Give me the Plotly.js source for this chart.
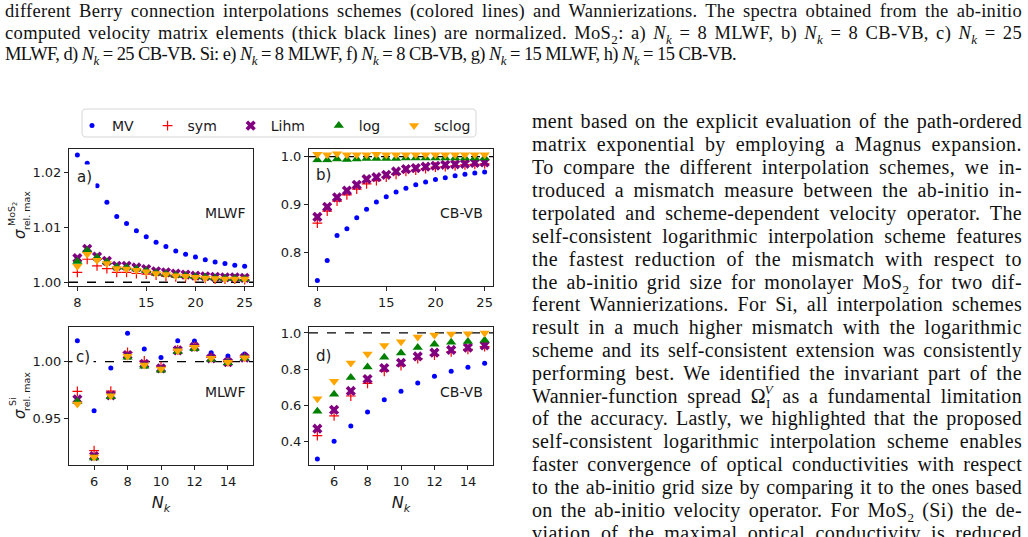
<!DOCTYPE html>
<html>
<head>
<meta charset="utf-8">
<script src="https://cdn.plot.ly/plotly-3.0.1.min.js"></script>
<style>
  html, body { margin:0; padding:0; background:#fff; }
  body { width:1028px; height:537px; position:relative; overflow:hidden; }
  #plot { position:absolute; left:0; top:0; width:1028px; height:537px; }
  .ln { position:absolute; white-space:nowrap; font-family:"Liberation Serif", "DejaVu Serif", serif; color:#111;
        text-align:justify; text-align-last:justify; height:22px; line-height:22px; z-index:2; }
  .cap { font-size:18.5px; left:5px; width:1017px; }
  .body { font-size:20px; left:532px; width:490px; }
  sub { font-size:13px; line-height:0; }
  .supv { font-size:13px; position:relative; top:-9px; margin-left:-6px; }
</style>
</head>
<body>
<div id="plot"></div>

<div class="ln cap" style="top:0px;">different Berry connection interpolations schemes (colored lines) and Wannierizations. The spectra obtained from the ab-initio</div>
<div class="ln cap" style="top:22px;">computed velocity matrix elements (thick black lines) are normalized. MoS<sub>2</sub>: a) <i>N<sub>k</sub></i> = 8 MLWF, b) <i>N<sub>k</sub></i> = 8 CB-VB, c) <i>N<sub>k</sub></i> = 25</div>
<div class="ln cap" style="top:43px; width:731px;">MLWF, d) <i>N<sub>k</sub></i> = 25 CB-VB. Si: e) <i>N<sub>k</sub></i> = 8 MLWF, f) <i>N<sub>k</sub></i> = 8 CB-VB, g) <i>N<sub>k</sub></i> = 15 MLWF, h) <i>N<sub>k</sub></i> = 15 CB-VB.</div>

<div class="ln body" style="top:110px;">ment based on the explicit evaluation of the path-ordered</div>
<div class="ln body" style="top:133px;">matrix exponential by employing a Magnus expansion.</div>
<div class="ln body" style="top:156px;">To compare the different interpolation schemes, we in-</div>
<div class="ln body" style="top:179px;">troduced a mismatch measure between the ab-initio in-</div>
<div class="ln body" style="top:202px;">terpolated and scheme-dependent velocity operator. The</div>
<div class="ln body" style="top:225px;">self-consistent logarithmic interpolation scheme features</div>
<div class="ln body" style="top:248px;">the fastest reduction of the mismatch with respect to</div>
<div class="ln body" style="top:271px;">the ab-initio grid size for monolayer MoS<sub>2</sub> for two dif-</div>
<div class="ln body" style="top:293px;">ferent Wannierizations. For Si, all interpolation schemes</div>
<div class="ln body" style="top:316px;">result in a much higher mismatch with the logarithmic</div>
<div class="ln body" style="top:339px;">scheme and its self-consistent extension was consistently</div>
<div class="ln body" style="top:362px;">performing best. We identified the invariant part of the</div>
<div class="ln body" style="top:385px;">Wannier-function spread Ω<sub>I</sub><span class="supv"><i>V</i></span> as a fundamental limitation</div>
<div class="ln body" style="top:407px;">of the accuracy. Lastly, we highlighted that the proposed</div>
<div class="ln body" style="top:430px;">self-consistent logarithmic interpolation scheme enables</div>
<div class="ln body" style="top:453px;">faster convergence of optical conductivities with respect</div>
<div class="ln body" style="top:476px;">to the ab-initio grid size by comparing it to the ones based</div>
<div class="ln body" style="top:499px;">on the ab-initio velocity operator. For MoS<sub>2</sub> (Si) the de-</div>
<div class="ln body" style="top:522px;">viation of the maximal optical conductivity is reduced</div>

<script>
// fit each justified text line: mild letter-spacing, then justify spaces
document.querySelectorAll('.ln').forEach(el => {
  const target = el.clientWidth;
  const span = document.createElement('span');
  while (el.firstChild) span.appendChild(el.firstChild);
  el.appendChild(span);
  el.style.textAlignLast = 'left';
  const nat = span.getBoundingClientRect().width;
  const chars = el.textContent.length;
  const extra = target - nat;
  let ls = extra > 0 ? extra * 0.45 / chars : (extra - 2) / chars;
  ls = Math.max(-1.2, Math.min(1.0, ls));
  el.style.letterSpacing = ls.toFixed(3) + 'px';
  el.style.textAlignLast = 'justify';
});
</script>

<script>
// ---------- data ----------
const seriesNames = ["MV", "sym", "Lihm", "log", "sclog"];
const panelLabels = ["a)", "b)", "c)", "d)"];
const wannierLabels = ["MLWF", "CB-VB", "MLWF", "CB-VB"];

const nkMoS2 = [8, 9, 10, 11, 12, 13, 14, 15, 16, 17, 18, 19, 20, 21, 22, 23, 24, 25];
const nkSi = [5, 6, 7, 8, 9, 10, 11, 12, 13, 14, 15];

// a) MoS2 MLWF
const mvA    = [1.0232, 1.0217, 1.0176, 1.0146, 1.0120, 1.0107, 1.0094, 1.0083, 1.0073, 1.0065, 1.0057, 1.0051, 1.0046, 1.0041, 1.0037, 1.0034, 1.0031, 1.0029];
const symA   = [1.0018, 1.0042, 1.0030, 1.0025, 1.0018, 1.0018, 1.0016, 1.0015, 1.0013, 1.0011, 1.0010, 1.0009, 1.0008, 1.0007, 1.0006, 1.0006, 1.0006, 1.0005];
const lihmA  = [1.0044, 1.0061, 1.0047, 1.0039, 1.0030, 1.0030, 1.0027, 1.0024, 1.0020, 1.0018, 1.0016, 1.0014, 1.0012, 1.0011, 1.0010, 1.0009, 1.0009, 1.0008];
const logA   = [1.0038, 1.0058, 1.0045, 1.0037, 1.0028, 1.0027, 1.0024, 1.0021, 1.0017, 1.0015, 1.0013, 1.0012, 1.0010, 1.0009, 1.0008, 1.0007, 1.0007, 1.0006];
const sclogA = [1.0029, 1.0051, 1.0040, 1.0034, 1.0025, 1.0024, 1.0022, 1.0019, 1.0016, 1.0014, 1.0012, 1.0011, 1.0009, 1.0008, 1.0007, 1.0006, 1.0006, 1.0006];

// b) MoS2 CB-VB
const mvB    = [0.741, 0.783, 0.835, 0.849, 0.872, 0.890, 0.905, 0.916, 0.926, 0.934, 0.941, 0.947, 0.952, 0.956, 0.960, 0.963, 0.966, 0.968];
const symB   = [0.861, 0.886, 0.907, 0.920, 0.932, 0.943, 0.950, 0.957, 0.963, 0.969, 0.972, 0.975, 0.978, 0.979, 0.981, 0.983, 0.984, 0.985];
const lihmB  = [0.874, 0.895, 0.915, 0.929, 0.941, 0.953, 0.957, 0.962, 0.969, 0.974, 0.976, 0.979, 0.981, 0.983, 0.984, 0.985, 0.987, 0.988];
const logB   = [0.993, 0.993, 0.995, 0.994, 0.995, 0.996, 0.996, 0.996, 0.996, 0.997, 0.997, 0.997, 0.997, 0.997, 0.997, 0.997, 0.997, 0.997];
const sclogB = [1.005, 1.004, 1.006, 1.004, 1.004, 1.004, 1.005, 1.004, 1.004, 1.004, 1.004, 1.004, 1.004, 1.004, 1.004, 1.004, 1.004, 1.004];

// c) Si MLWF
const mvC    = [1.0185, 0.9568, 0.9944, 1.0250, 1.0112, 1.0038, 1.0185, 1.0182, 1.0079, 1.0050, 1.0068];
const symC   = [0.9738, 0.9215, 0.9741, 1.0082, 1.0006, 0.9956, 1.0103, 1.0135, 1.0038, 1.0000, 1.0040];
const lihmC  = [0.9668, 0.9168, 0.9703, 1.0059, 0.9980, 0.9941, 1.0100, 1.0130, 1.0030, 0.9995, 1.0035];
const logC   = [0.9650, 0.9150, 0.9690, 1.0040, 0.9960, 0.9925, 1.0090, 1.0115, 1.0020, 0.9990, 1.0030];
const sclogC = [0.9627, 0.9159, 0.9700, 1.0047, 0.9970, 0.9935, 1.0097, 1.0127, 1.0030, 0.9995, 1.0035];

// d) Si CB-VB
const mvD    = [0.302, 0.400, 0.485, 0.563, 0.630, 0.677, 0.723, 0.760, 0.788, 0.810, 0.832];
const symD   = [0.432, 0.541, 0.651, 0.721, 0.788, 0.819, 0.858, 0.878, 0.895, 0.909, 0.924];
const lihmD  = [0.470, 0.574, 0.679, 0.745, 0.806, 0.835, 0.870, 0.891, 0.906, 0.919, 0.931];
const logD   = [0.567, 0.660, 0.754, 0.811, 0.865, 0.889, 0.919, 0.937, 0.948, 0.953, 0.959];
const sclogD = [0.636, 0.732, 0.834, 0.884, 0.931, 0.952, 0.978, 0.989, 0.994, 0.996, 1.000];

const xTicksMoS2 = [8, 15, 20, 25];
const xTicksSi = [6, 8, 10, 12, 14];
const yTicksA = [1.00, 1.01, 1.02];
const yTicksB = [0.8, 0.9, 1.0];
const yTicksC = [0.95, 1.00];
const yTicksD = [0.4, 0.6, 0.8, 1.0];
const referenceLevel = 1.0;

// ---------- styling ----------
const markerStyles = [
  {symbol: "circle", size: 5, color: "#0000ff", line: {width: 0}},
  {symbol: "cross-thin", size: 7, color: "#ff0000", line: {color: "#ff0000", width: 1.2}},
  {symbol: "x", size: 9, color: "#800080", line: {width: 0}},
  {symbol: "triangle-up", size: 9, color: "#008000", line: {width: 0}},
  {symbol: "triangle-down", size: 9, color: "#ffa500", line: {width: 0}}
];

const panels = [
  {x: nkMoS2, ys: [mvA, symA, lihmA, logA, sclogA], xa: "x", ya: "y"},
  {x: nkMoS2, ys: [mvB, symB, lihmB, logB, sclogB], xa: "x2", ya: "y2"},
  {x: nkSi,   ys: [mvC, symC, lihmC, logC, sclogC], xa: "x3", ya: "y3"},
  {x: nkSi,   ys: [mvD, symD, lihmD, logD, sclogD], xa: "x4", ya: "y4"}
];

const legendPad = "\u00a0\u00a0";
const traces = [];
panels.forEach((p, pi) => {
  p.ys.forEach((ys, si) => {
    traces.push({
      type: "scatter", mode: "markers",
      x: p.x, y: ys, xaxis: p.xa, yaxis: p.ya,
      name: seriesNames[si] + legendPad, showlegend: pi === 0,
      marker: markerStyles[si], cliponaxis: false, hoverinfo: "skip"
    });
  });
});

const W = 1028, H = 537;
const px = (a, b) => [a / W, b / W];
const py = (top, bottom) => [1 - bottom / H, 1 - top / H];

const tickFont = {family: "DejaVu Sans", size: 13, color: "#1a1a1a"};
function xax(domain, anchor, tickvals, range, title) {
  const o = {domain, anchor, range, tickvals, ticktext: tickvals.map(String),
    showgrid: false, zeroline: false, showline: true, mirror: true, linecolor: "#222", linewidth: 1,
    ticks: "outside", ticklen: 4, tickwidth: 1, tickcolor: "#222", tickfont: tickFont};
  if (title) o.title = {text: title, font: {family: "DejaVu Sans", size: 16, color: "#1a1a1a"}, standoff: 9};
  return o;
}
function yax(domain, anchor, tickvals, range, fmt) {
  return {domain, anchor, range, tickvals, ticktext: tickvals.map(v => v.toFixed(fmt)),
    showgrid: false, zeroline: false, showline: true, mirror: true, linecolor: "#222", linewidth: 1,
    ticks: "outside", ticklen: 4, tickwidth: 1, tickcolor: "#222", tickfont: tickFont};
}

const leftX = px(69, 253), rightX = px(309, 493);
const topY = py(149, 286), botY = py(327, 465);
const nkTitle = "<i>N</i><sub><i>k</i></sub>";

// rounded legend frame (paper coordinates)
function roundRect(x0, y0, x1, y1, r) {
  const X = v => (v / W).toFixed(5), Y = v => (1 - v / H).toFixed(5);
  return `M${X(x0 + r)},${Y(y0)} L${X(x1 - r)},${Y(y0)} Q${X(x1)},${Y(y0)} ${X(x1)},${Y(y0 + r)} ` +
         `L${X(x1)},${Y(y1 - r)} Q${X(x1)},${Y(y1)} ${X(x1 - r)},${Y(y1)} L${X(x0 + r)},${Y(y1)} ` +
         `Q${X(x0)},${Y(y1)} ${X(x0)},${Y(y1 - r)} L${X(x0)},${Y(y0 + r)} Q${X(x0)},${Y(y0)} ${X(x0 + r)},${Y(y0)} Z`;
}

const layout = {
  width: W, height: H,
  margin: {l: 0, r: 0, t: 0, b: 0},
  paper_bgcolor: "rgba(0,0,0,0)", plot_bgcolor: "rgba(0,0,0,0)",
  font: {family: "DejaVu Sans", color: "#1a1a1a"},
  xaxis:  xax(leftX,  "y",  xTicksMoS2, [7.15, 25.85]),
  yaxis:  yax(topY,   "x",  yTicksA, [0.99932, 1.0243], 2),
  xaxis2: xax(rightX, "y2", xTicksMoS2, [7.15, 25.85]),
  yaxis2: yax(topY,   "x2", yTicksB, [0.7295, 1.016], 1),
  xaxis3: xax(leftX,  "y3", xTicksSi, [4.5, 15.5], nkTitle),
  yaxis3: yax(botY,   "x3", yTicksC, [0.9089, 1.0306], 2),
  xaxis4: xax(rightX, "y4", xTicksSi, [4.5, 15.5], nkTitle),
  yaxis4: yax(botY,   "x4", yTicksD, [0.269, 1.033], 1),
  showlegend: true,
  legend: {
    orientation: "h", x: 72 / W, y: 1 - 110 / H, xanchor: "left", yanchor: "top",
    bgcolor: "rgba(0,0,0,0)", borderwidth: 0,
    font: {family: "DejaVu Sans", size: 14, color: "#1a1a1a"}, itemwidth: 30
  },
  shapes: ["", "2", "3", "4"].map(s => ({
    type: "line", xref: "x" + s + " domain", yref: "y" + s, x0: 0, x1: 1,
    y0: referenceLevel, y1: referenceLevel, layer: "below",
    line: {color: "#000", width: 1.3, dash: "dash"}
  })).concat([{
    type: "path", xref: "paper", yref: "paper", path: roundRect(82, 109, 476, 137, 4),
    line: {color: "#d6d6d6", width: 1}, fillcolor: "#ffffff", layer: "below"
  }]),
  annotations: []
};

// panel letters and Wannierization labels
const letterPos = [[73, 177], [312, 175], [72, 357], [312, 356]];
const wanPos = [[225, 213], [461, 213], [225, 392], [461, 392]];
["", "2", "3", "4"].forEach((s, i) => {
  layout.annotations.push({
    xref: "paper", yref: "paper", x: letterPos[i][0] / W, y: 1 - letterPos[i][1] / H,
    xanchor: "left", yanchor: "middle", text: panelLabels[i], showarrow: false,
    font: {family: "DejaVu Sans", size: 15, color: "#1a1a1a"}, bgcolor: "#ffffff", borderpad: 3
  });
  layout.annotations.push({
    xref: "paper", yref: "paper", x: wanPos[i][0] / W, y: 1 - wanPos[i][1] / H,
    xanchor: "center", yanchor: "middle", text: wannierLabels[i], showarrow: false,
    font: {family: "DejaVu Sans", size: 14, color: "#1a1a1a"}
  });
});

// stacked y-axis labels  sigma^{sup}_{rel. max}
function ylabel(sigmaY, supY, subY) {
  return function (sup) {
    const f = (t, x, y, size) => ({
      xref: "paper", yref: "paper", x: x / W, y: 1 - y / H, xanchor: "center", yanchor: "middle",
      text: t, textangle: -90, showarrow: false,
      font: {family: "DejaVu Sans", size: size, color: "#1a1a1a"}
    });
    layout.annotations.push(f("<i>σ</i>", 20, sigmaY, 15));
    layout.annotations.push(f(sup, 12, supY, 9.5));
    layout.annotations.push(f("rel. max", 26, subY, 9.5));
  };
}
ylabel(234, 214, 211)("MoS<sub>2</sub>");
ylabel(414, 402, 392)("Si");

Plotly.newPlot("plot", traces, layout, {staticPlot: true, displayModeBar: false});
</script>
</body>
</html>
